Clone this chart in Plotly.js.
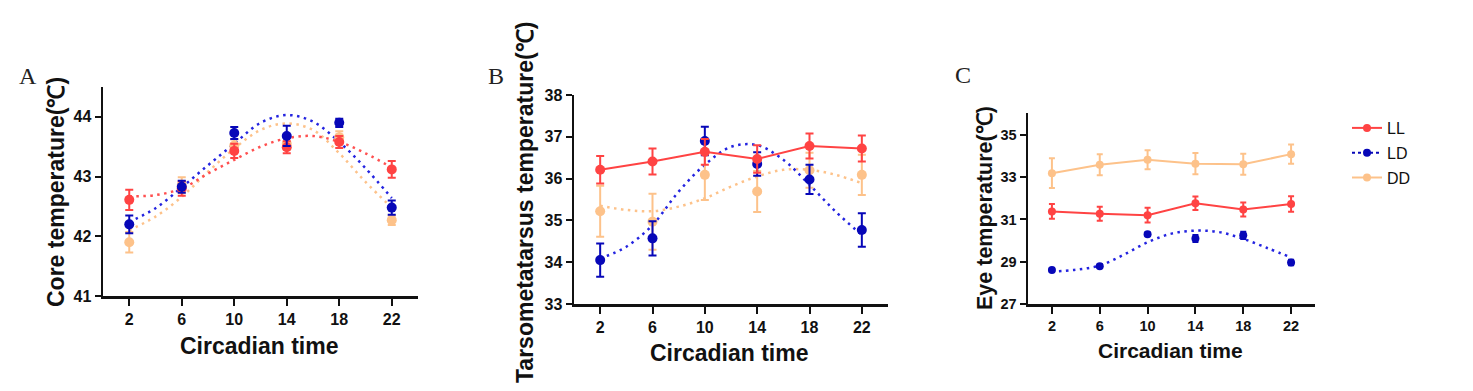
<!DOCTYPE html>
<html>
<head>
<meta charset="utf-8">
<script src="https://cdn.plot.ly/plotly-3.0.1.min.js"></script>
<style>html,body{margin:0;padding:0;background:#fff}#chart{width:1473px;height:391px}</style>
</head>
<body>
<div id="chart"></div>
<script>
// ---------- data ----------
const hours = [2, 6, 10, 14, 18, 22];
const fitHours = [2, 4, 6, 8, 10, 12, 14, 16, 18, 20, 22];
const seriesNames = ['LL', 'LD', 'DD'];

// Panel A: core temperature
const coreLL = [42.61, 42.80, 43.43, 43.49, 43.58, 43.12];
const coreLLErr = [0.17, 0.12, 0.12, 0.10, 0.10, 0.14];
const coreLD = [42.20, 42.83, 43.73, 43.68, 43.90, 42.48];
const coreLDErr = [0.15, 0.10, 0.10, 0.17, 0.07, 0.12];
const coreDD = [41.90, 42.86, 43.52, 43.55, 43.66, 42.27];
const coreDDErr = [0.17, 0.13, 0.10, 0.10, 0.10, 0.08];
const coreFitLL = [42.67, 42.69, 42.80, 43.05, 43.28, 43.50, 43.64, 43.68, 43.58, 43.39, 43.15];
const coreFitLD = [42.24, 42.47, 42.82, 43.19, 43.55, 43.90, 44.03, 43.92, 43.58, 43.14, 42.64];
const coreFitDD = [42.10, 42.33, 42.66, 43.08, 43.47, 43.78, 43.89, 43.78, 43.39, 42.91, 42.48];

// Panel B: tarsometatarsus temperature
const tarsLL = [36.21, 36.41, 36.64, 36.47, 36.78, 36.72];
const tarsLLErr = [0.33, 0.31, 0.31, 0.33, 0.30, 0.31];
const tarsLD = [34.05, 34.57, 36.90, 36.35, 35.98, 34.77];
const tarsLDErr = [0.40, 0.41, 0.34, 0.28, 0.35, 0.40];
const tarsDD = [35.22, 34.97, 36.09, 35.69, 36.20, 36.09];
const tarsDDErr = [0.61, 0.67, 0.60, 0.49, 0.42, 0.48];
const tarsFitLD = [34.09, 34.37, 34.89, 35.69, 36.33, 36.76, 36.80, 36.45, 35.85, 35.21, 34.65];
const tarsFitDD = [35.35, 35.25, 35.22, 35.33, 35.53, 35.81, 36.05, 36.21, 36.21, 36.09, 35.89];

// Panel C: eye temperature
const eyeLL = [31.38, 31.27, 31.20, 31.77, 31.47, 31.73];
const eyeLLErr = [0.35, 0.33, 0.35, 0.32, 0.33, 0.37];
const eyeLD = [28.61, 28.79, 30.30, 30.10, 30.25, 28.96];
const eyeLDErr = [0.08, 0.08, 0.08, 0.17, 0.17, 0.13];
const eyeDD = [33.19, 33.59, 33.82, 33.64, 33.61, 34.09];
const eyeDDErr = [0.70, 0.50, 0.45, 0.50, 0.50, 0.45];
const eyeFitLD = [28.53, 28.62, 28.82, 29.33, 29.92, 30.33, 30.47, 30.40, 30.08, 29.65, 29.20];

const xTicks = [2, 6, 10, 14, 18, 22];
const coreTicks = [41, 42, 43, 44];
const tarsTicks = [33, 34, 35, 36, 37, 38];
const eyeTicks = [27, 29, 31, 33, 35];

// ---------- styles ----------
const COL = {LL: '#ff4343', LD: '#0707b8', DD: '#fdc28a'};
const FIT = {LL: '#ff5050', LD: '#2424e0', DD: '#fdc28a'};
const DOTS = '2.5px,4.5px';

const W = 1473, H = 391;
const px = x => x / W;
const py = y => 1 - y / H;

function points(ax, x, y, err, name, mode, size, cap) {
  return {
    type: 'scatter', mode: mode, x: x, y: y, name: name,
    xaxis: 'x' + ax, yaxis: 'y' + ax, showlegend: false, legendgroup: name,
    marker: {color: COL[name], size: size},
    line: {color: COL[name], width: 2},
    error_y: {type: 'data', array: err, visible: true, color: COL[name], thickness: 2, width: cap},
    cliponaxis: false
  };
}
function fit(ax, x, y, name) {
  return {
    type: 'scatter', mode: 'lines', x: x, y: y, name: name,
    xaxis: 'x' + ax, yaxis: 'y' + ax, showlegend: false, legendgroup: name,
    line: {color: FIT[name], width: 2.5, dash: DOTS, shape: 'spline', smoothing: 1},
    hoverinfo: 'skip'
  };
}
function legendOnly(name, dash) {
  return {
    type: 'scatter', mode: 'lines+markers', x: [null], y: [null], name: name,
    xaxis: 'x3', yaxis: 'y3', showlegend: true, legendgroup: name,
    marker: {color: COL[name], size: 8},
    line: {color: COL[name], width: 2, dash: dash}
  };
}

const traces = [
  // Panel A
  fit('', fitHours, coreFitDD, 'DD'),
  fit('', fitHours, coreFitLL, 'LL'),
  fit('', fitHours, coreFitLD, 'LD'),
  points('', hours, coreDD, coreDDErr, 'DD', 'markers', 10, 4),
  points('', hours, coreLL, coreLLErr, 'LL', 'markers', 10, 4),
  points('', hours, coreLD, coreLDErr, 'LD', 'markers', 10, 4),
  // Panel B
  fit('2', fitHours, tarsFitDD, 'DD'),
  fit('2', fitHours, tarsFitLD, 'LD'),
  points('2', hours, tarsDD, tarsDDErr, 'DD', 'markers', 10, 4),
  points('2', hours, tarsLD, tarsLDErr, 'LD', 'markers', 10, 4),
  points('2', hours, tarsLL, tarsLLErr, 'LL', 'lines+markers', 10, 4),
  // Panel C
  fit('3', fitHours, eyeFitLD, 'LD'),
  points('3', hours, eyeLD, eyeLDErr, 'LD', 'markers', 8, 3),
  points('3', hours, eyeLL, eyeLLErr, 'LL', 'lines+markers', 8, 3),
  points('3', hours, eyeDD, eyeDDErr, 'DD', 'lines+markers', 8, 3),
  // legend entries
  legendOnly('LL', 'solid'),
  legendOnly('LD', 'dot'),
  legendOnly('DD', 'solid')
];
traces.forEach(t => { if (t.xaxis === 'x') { t.xaxis = 'x'; t.yaxis = 'y'; } });

const tickFont = {family: 'Liberation Sans, Arial, sans-serif', size: 16, color: '#111', weight: 'bold'};
function xAxis(domain, anchor, fs) {
  return {
    domain: domain, anchor: anchor, range: [0, 24], tickvals: xTicks, ticktext: xTicks.map(String),
    showline: true, linecolor: '#111', linewidth: 2.5, ticks: 'outside', ticklen: 7, tickwidth: 2,
    tickcolor: '#111', showgrid: false, zeroline: false, automargin: false,
    tickfont: Object.assign({}, tickFont, {size: fs})
  };
}
function yAxis(domain, anchor, range, vals, fs) {
  return {
    domain: domain, anchor: anchor, range: range, tickvals: vals, ticktext: vals.map(String),
    showline: true, linecolor: '#111', linewidth: 2.5, ticks: 'outside', ticklen: 6, tickwidth: 2,
    tickcolor: '#111', showgrid: false, zeroline: false, automargin: false,
    tickfont: Object.assign({}, tickFont, {size: fs})
  };
}

const titleFont = s => ({family: 'Liberation Sans, Arial, sans-serif', size: s, color: '#111', weight: 'bold'});
const letterFont = {family: 'Liberation Serif, Times New Roman, serif', size: 24, color: '#222'};
function ann(text, x, y, font, angle) {
  return {text: text, x: px(x), y: py(y), xref: 'paper', yref: 'paper', showarrow: false,
          font: font, textangle: angle || 0, xanchor: 'center', yanchor: 'middle'};
}

const layout = {
  width: W, height: H, margin: {l: 0, r: 0, t: 0, b: 0},
  paper_bgcolor: '#fff', plot_bgcolor: '#fff', showlegend: true,
  xaxis: xAxis([px(103), px(418)], 'y', 16),
  yaxis: yAxis([py(296), py(87)], 'x', [41, 44.5], coreTicks, 16),
  xaxis2: xAxis([px(574), px(888)], 'y2', 16),
  yaxis2: yAxis([py(304), py(95)], 'x2', [33, 38], tarsTicks, 16),
  xaxis3: xAxis([px(1028), px(1315)], 'y3', 14.5),
  yaxis3: yAxis([py(304), py(112.7)], 'x3', [27, 36.05], eyeTicks, 14.5),
  legend: {x: px(1347), y: py(111), xanchor: 'left', yanchor: 'top', tracegroupgap: 1,
           font: {family: 'Liberation Sans, Arial, sans-serif', size: 16, color: '#111'},
           bgcolor: 'rgba(0,0,0,0)'},
  annotations: [
    ann('A', 28, 76, letterFont), ann('B', 496, 76, letterFont), ann('C', 963, 75, letterFont),
    ann('Core temperature(℃)', 56, 192, titleFont(23), -90),
    ann('Circadian time', 259, 346, titleFont(23)),
    ann('Tarsometatarsus temperature(℃)', 525, 203, titleFont(23), -90),
    ann('Circadian time', 729, 353, titleFont(23)),
    ann('Eye temperature(℃)', 985, 208, titleFont(21.5), -90),
    ann('Circadian time', 1170, 350, titleFont(21))
  ]
};

Plotly.newPlot('chart', traces, layout, {displayModeBar: false, staticPlot: true});
</script>
</body>
</html>
